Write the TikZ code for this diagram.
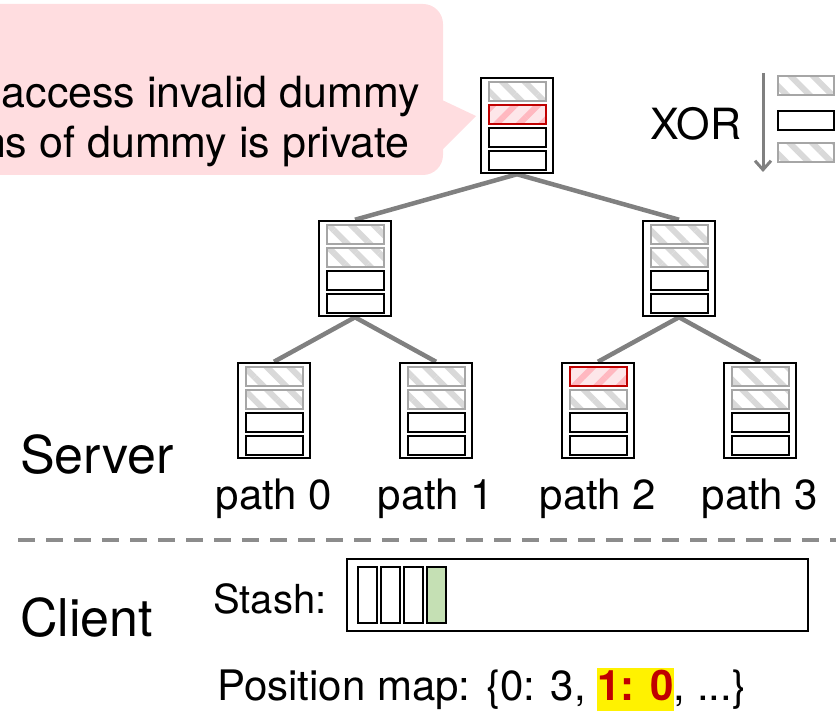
\documentclass[tikz,border=0pt]{standalone}
\usepackage{fontspec}
\setmainfont{TeX Gyre Heros}
\usetikzlibrary{patterns.meta,arrows.meta,backgrounds}
\definecolor{calloutpink}{HTML}{FFDDE0}
\definecolor{edgegray}{HTML}{808080}
\definecolor{dashgray}{HTML}{8C8C8C}
\definecolor{hatchgray}{HTML}{D9D9D9}
\definecolor{slotgray}{HTML}{A6A6A6}
\definecolor{slotred}{HTML}{C00000}
\definecolor{redfill}{HTML}{FDE6E9}
\definecolor{redhatch}{HTML}{FFB8C0}
\definecolor{stashgreen}{HTML}{C5E0B4}
\definecolor{maptext}{HTML}{C00000}
\newcommand{\hlbox}[1]{{\setlength{\fboxsep}{0pt}\colorbox{yellow}{\rule[-11pt]{0pt}{43pt}\textcolor{maptext}{\bfseries #1}}}}
\newcommand{\mybucket}[7]{%
  \node[bucket] (#1) at ({#2},{#3+47.5}) {};
  \node[#4] (#1-1) at ({#2},{#3+13.5}) {};
  \node[#5] (#1-2) at ({#2},{#3+36.5}) {};
  \node[#6] (#1-3) at ({#2},{#3+59.5}) {};
  \node[#7] (#1-4) at ({#2},{#3+82.5}) {};
}
\begin{document}
\begin{tikzpicture}[x=1pt,y=-1pt,
  bucket/.style={draw=black, line width=2.5pt, fill=white, minimum width=72pt, minimum height=95pt, inner sep=0pt},
  slotbase/.style={line width=2pt, minimum width=57pt, minimum height=19pt, inner sep=0pt},
  swhite/.style={slotbase, draw=black, fill=white},
  sgray/.style={slotbase, draw=slotgray, preaction={fill=white}, pattern={Lines[angle=-45,distance=16pt,line width=6pt]}, pattern color=hatchgray},
  sred/.style={slotbase, draw=slotred, preaction={fill=redfill}, pattern={Lines[angle=45,distance=16pt,line width=6pt]}, pattern color=redhatch},
  xslot/.style={minimum width=56pt},
  stashslot/.style={draw=black, line width=1.8pt, fill=white, minimum width=19pt, minimum height=56pt, inner sep=0pt},
  treeedge/.style={draw=edgegray, line width=4.5pt},
  bigtext/.style={font=\fontsize{52}{60}\selectfont, inner sep=0pt},
  midtext/.style={font=\fontsize{42}{50}\selectfont, inner sep=0pt},
  callouttext/.style={font=\fontsize{43}{50}\selectfont, inner sep=0pt},
  smalltext/.style={font=\fontsize{40}{48}\selectfont, inner sep=0pt},
]
\useasboundingbox (0,0) rectangle (836,711);
\clip (0,0) rectangle (836,711);

% callout
\fill[calloutpink, rounded corners=20pt] (-60,4) rectangle (443,175);
\fill[calloutpink] (440,99) -- (476,116) -- (440,152) -- cycle;
\node[callouttext, anchor=base east] (c1) at (420,108) {access invalid dummy};
\node[callouttext, anchor=base east] (c2) at (410,158) {ns of dummy is private};

% tree
\mybucket{r}{517}{78}{sgray}{sred}{swhite}{swhite}
\mybucket{m0}{355}{221}{sgray}{sgray}{swhite}{swhite}
\mybucket{m1}{679}{221}{sgray}{sgray}{swhite}{swhite}
\mybucket{l0}{274}{363}{sgray}{sgray}{swhite}{swhite}
\mybucket{l1}{436}{363}{sgray}{sgray}{swhite}{swhite}
\mybucket{l2}{598}{363}{sred}{sgray}{swhite}{swhite}
\mybucket{l3}{760}{363}{sgray}{sgray}{swhite}{swhite}

\begin{scope}[on background layer]
  \draw[treeedge] (r.south) -- (m0.north);
  \draw[treeedge] (r.south) -- (m1.north);
  \draw[treeedge] (m0.south) -- (l0.north);
  \draw[treeedge] (m0.south) -- (l1.north);
  \draw[treeedge] (m1.south) -- (l2.north);
  \draw[treeedge] (m1.south) -- (l3.north);
\end{scope}

% path labels
\node[midtext, anchor=base] (p0) at (274,509) {path 0};
\node[midtext, anchor=base] (p1) at (436,509) {path 1};
\node[midtext, anchor=base] (p2) at (598,509) {path 2};
\node[midtext, anchor=base] (p3) at (760,509) {path 3};

% XOR legend
\node[font=\fontsize{43}{50}\selectfont, inner sep=0pt, anchor=base west] (xor) at (650,140) {XOR};
\coordinate (xa) at (763,73);
\coordinate (xb) at (763,172);
\draw[edgegray, line width=3pt, -{Straight Barb[length=9pt,width=16pt]}] (xa) -- (xb);
\node[sgray, xslot] (x1) at (806,85.5) {};
\node[swhite, xslot] (x2) at (806,120.5) {};
\node[sgray, xslot] (x3) at (806,152.5) {};

% server / client
\node[bigtext, anchor=base west] (server) at (20,473) {Server};
\coordinate (dl) at (18,540);
\coordinate (dr) at (840,540);
\draw[dashgray, line width=4pt, dash pattern=on 17pt off 11pt] (dl) -- (dr);
\node[bigtext, anchor=base west] (client) at (20,636) {Client};

% stash
\node[smalltext, anchor=base west] (stashlbl) at (213,613) {Stash:};
\node[draw=black, line width=2pt, minimum width=461pt, minimum height=72pt, inner sep=0pt] (stash) at (577.5,595) {};
\node[stashslot] (s1) at (367.5,595) {};
\node[stashslot] (s2) at (390.5,595) {};
\node[stashslot] (s3) at (413.5,595) {};
\node[stashslot, fill=stashgreen] (s4) at (436.5,595) {};

% position map
\node[midtext, anchor=base west] (pmap) at (217,700) {Position map: \{0: 3, \hlbox{1: 0}, ...\}};
\end{tikzpicture}
\end{document}
